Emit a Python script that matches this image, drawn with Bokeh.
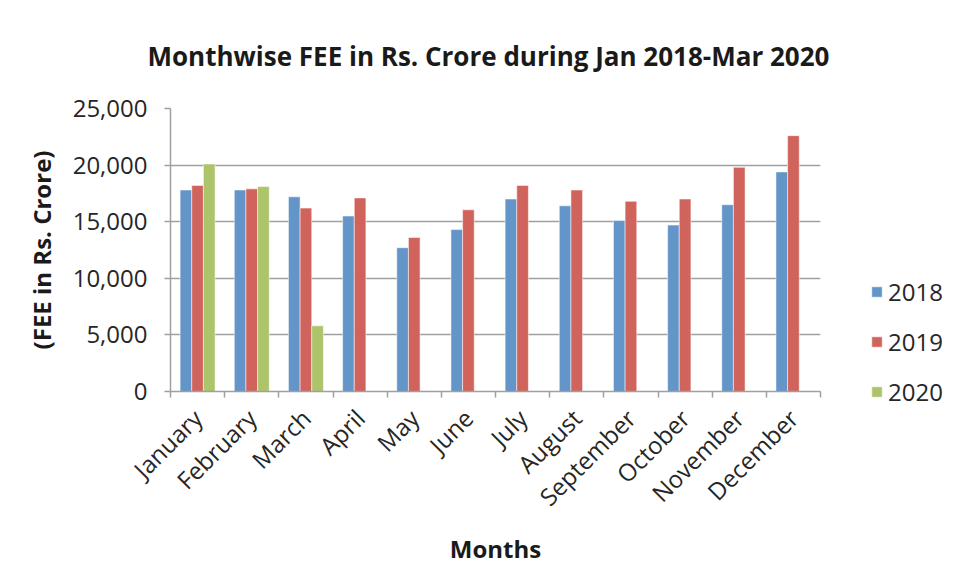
import math
from bokeh.plotting import figure
from bokeh.models import (Range1d, FixedTicker, Legend, LegendItem, ColumnDataSource,
                          NumeralTickFormatter)
from bokeh.embed import file_html
from bokeh.resources import INLINE

months = ["January", "February", "March", "April", "May", "June", "July",
          "August", "September", "October", "November", "December"]
fee_2018 = [17800, 17800, 17200, 15500, 12700, 14300, 17000, 16400, 15100, 14700, 16500, 19400]
fee_2019 = [18200, 17900, 16200, 17100, 13600, 16050, 18200, 17800, 16800, 17000, 19800, 22600]
fee_2020 = [20100, 18100, 5800]
y_ticks = [0, 5000, 10000, 15000, 20000, 25000]

FONT = "Open Sans"
C18, C19, C20 = "#6395c9", "#d0645d", "#adc46b"

p = figure(width=951, height=565, frame_width=650, frame_height=283,
           output_backend="svg", toolbar_location=None,
           x_range=Range1d(0, 12), y_range=Range1d(0, 25000),
           min_border_left=170, min_border_right=131, min_border_top=108,
           min_border_bottom=174)

p.title.text = "Monthwise FEE in Rs. Crore during Jan 2018-Mar 2020"
p.title.text_font = FONT
p.title.text_font_size = "26px"
p.title.text_font_style = "bold"
p.title.text_color = "#1a1a1a"
p.title.align = "left"
p.title.offset = -23
p.title.standoff = 69

centers = [i + 0.5 for i in range(len(months))]
off = 0.215
w = 0.215

src18 = ColumnDataSource(dict(x=[c - off for c in centers], top=fee_2018))
src19 = ColumnDataSource(dict(x=list(centers), top=fee_2019))
src20 = ColumnDataSource(dict(x=[c + off for c in centers[:len(fee_2020)]], top=fee_2020))

r18 = p.vbar(x="x", top="top", width=w, bottom=0, source=src18, fill_color=C18,
             line_color="white", line_alpha=0.5, line_width=1)
r19 = p.vbar(x="x", top="top", width=w, bottom=0, source=src19, fill_color=C19,
             line_color="white", line_alpha=0.5, line_width=1)
r20 = p.vbar(x="x", top="top", width=w, bottom=0, source=src20, fill_color=C20,
             line_color="white", line_alpha=0.5, line_width=1)

GRID = "#a0a0a0"
p.outline_line_color = None
p.background_fill_color = "white"
p.border_fill_color = "white"

p.xgrid.grid_line_color = None
p.ygrid.grid_line_color = GRID
p.ygrid.grid_line_width = 1.5

# y axis
p.yaxis.ticker = FixedTicker(ticks=y_ticks)
p.yaxis.formatter = NumeralTickFormatter(format="0,0")
p.yaxis.axis_label = "(FEE in Rs. Crore)"
p.yaxis.axis_label_text_font = FONT
p.yaxis.axis_label_text_font_size = "24px"
p.yaxis.axis_label_text_font_style = "bold"
p.yaxis.axis_label_text_color = "#1a1a1a"
p.yaxis.axis_label_standoff = 12
p.yaxis.major_label_text_font = FONT
p.yaxis.major_label_text_font_size = "24px"
p.yaxis.major_label_text_color = "#262626"
p.yaxis.major_label_standoff = 17
p.yaxis.axis_line_color = GRID
p.yaxis.axis_line_width = 1.5
p.yaxis.major_tick_line_color = GRID
p.yaxis.major_tick_line_width = 1.5
p.yaxis.major_tick_in = 0
p.yaxis.major_tick_out = 6
p.yaxis.minor_tick_line_color = None

# x axis
p.xaxis.ticker = FixedTicker(ticks=centers, minor_ticks=list(range(len(months) + 1)))
p.xaxis.major_label_overrides = {c: m for c, m in zip(centers, months)}
p.xaxis.major_label_orientation = math.pi / 4
p.xaxis.major_label_text_font = FONT
p.xaxis.major_label_text_font_size = "24px"
p.xaxis.major_label_text_color = "#262626"
p.xaxis.major_label_standoff = 16
p.xaxis.major_tick_line_color = None
p.xaxis.minor_tick_line_color = GRID
p.xaxis.minor_tick_line_width = 1.5
p.xaxis.minor_tick_in = 0
p.xaxis.minor_tick_out = 6
p.xaxis.axis_line_color = GRID
p.xaxis.axis_line_width = 1.5
p.xaxis.axis_label = "Months"
p.xaxis.axis_label_text_font = FONT
p.xaxis.axis_label_text_font_size = "24px"
p.xaxis.axis_label_text_font_style = "bold"
p.xaxis.axis_label_text_color = "#1a1a1a"
p.xaxis.axis_label_standoff = 5

legend = Legend(items=[LegendItem(label="2018", renderers=[r18]),
                       LegendItem(label="2019", renderers=[r19]),
                       LegendItem(label="2020", renderers=[r20])],
                location="top_left", orientation="vertical")
legend.title = " "
legend.title_text_font_size = "1px"
legend.title_standoff = 116
legend.label_text_font = FONT
legend.label_text_font_size = "24px"
legend.label_text_color = "#262626"
legend.glyph_width = 13
legend.glyph_height = 13
legend.label_standoff = 5
legend.spacing = 17
legend.padding = 0
legend.margin = 50
legend.border_line_color = None
legend.background_fill_alpha = 0
p.add_layout(legend, "right")

open("out.html", "w").write(file_html(p, INLINE))
